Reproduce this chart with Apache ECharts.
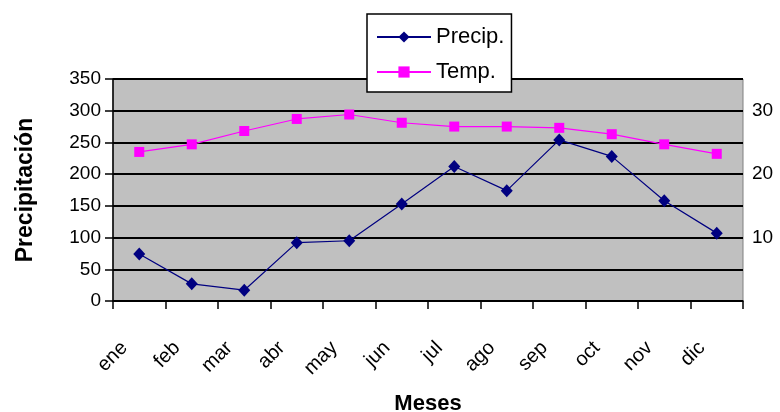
<!DOCTYPE html>
<html>
<head>
<meta charset="utf-8">
<script src="https://cdn.jsdelivr.net/npm/echarts@6/dist/echarts.min.js"></script>
<style>
html,body{margin:0;padding:0;background:#fff;}
#chart{width:780px;height:412px;}
</style>
</head>
<body>
<div id="chart"></div>
<script>
const months = ['ene','feb','mar','abr','may','jun','jul','ago','sep','oct','nov','dic'];
const precip = [74, 27, 17, 92, 95, 153, 212, 174, 254, 228, 158, 107];
const temp = [23.5, 24.7, 26.8, 28.7, 29.4, 28.1, 27.5, 27.5, 27.3, 26.3, 24.7, 23.2];
const leftTicks = {min: 0, max: 350, interval: 50};
const rightTicks = {min: 0, max: 35, interval: 10};

const FONT = '"Liberation Sans", Arial, sans-serif';
const chart = echarts.init(document.getElementById('chart'), null, {renderer: 'canvas'});
chart.setOption({
  animation: false,
  backgroundColor: '#ffffff',
  textStyle: {fontFamily: FONT, color: '#000'},
  grid: {
    left: 113, right: 37, top: 79, bottom: 111,
    show: true, backgroundColor: '#C0C0C0', borderColor: '#808080', borderWidth: 1,
    containLabel: false,
    outerBoundsMode: 'none'
  },
  legend: {
    orient: 'vertical',
    left: 367, top: 14,
    padding: [12, 7, 9, 9],
    backgroundColor: '#ffffff',
    borderColor: '#000', borderWidth: 1.5,
    itemWidth: 54, itemHeight: 14, itemGap: 13,
    textStyle: {fontFamily: FONT, fontSize: 22, color: '#000'},
    data: ['Precip.', 'Temp.']
  },
  xAxis: {
    type: 'category',
    data: months,
    boundaryGap: true,
    axisLine: {show: true, lineStyle: {color: '#000', width: 1.5}},
    axisTick: {show: true, length: 8, lineStyle: {color: '#000', width: 1.5}},
    axisLabel: {rotate: 45, fontSize: 20, color: '#000', fontFamily: FONT, margin: 29, padding: [0, 21, 0, 0]},
    splitLine: {show: false},
    name: 'Meses', nameLocation: 'middle', nameGap: 92,
    nameTextStyle: {fontFamily: FONT, fontSize: 22, fontWeight: 'bold', color: '#000'}
  },
  yAxis: [
    {
      type: 'value', min: leftTicks.min, max: leftTicks.max, interval: leftTicks.interval,
      position: 'left',
      axisLine: {show: true, lineStyle: {color: '#000', width: 1.5}},
      axisTick: {show: true, length: 8, lineStyle: {color: '#000', width: 1.5}},
      axisLabel: {fontSize: 19, color: '#000', fontFamily: FONT, margin: 12},
      splitLine: {show: true, lineStyle: {color: '#000', width: 2}},
      name: 'Precipitación', nameLocation: 'middle', nameGap: 76,
      nameTextStyle: {fontFamily: FONT, fontSize: 23, fontWeight: 'bold', color: '#000'}
    },
    {
      type: 'value', min: rightTicks.min, max: rightTicks.max, interval: rightTicks.interval,
      position: 'right',
      axisLine: {show: false},
      axisTick: {show: false},
      axisLabel: {fontSize: 19, color: '#000', fontFamily: FONT, margin: 9,
        formatter: function (v) { return (v === rightTicks.min || v === rightTicks.max) ? '' : String(v); }},
      splitLine: {show: false}
    }
  ],
  series: [
    {
      name: 'Precip.', type: 'line', yAxisIndex: 0, data: precip,
      symbol: 'diamond', symbolSize: [12, 13],
      itemStyle: {color: '#000080'},
      lineStyle: {color: '#000080', width: 1.2}
    },
    {
      name: 'Temp.', type: 'line', yAxisIndex: 1, data: temp,
      symbol: 'rect', symbolSize: 10,
      itemStyle: {color: '#FF00FF'},
      lineStyle: {color: '#FF00FF', width: 1.2}
    }
  ]
});
</script>
</body>
</html>
